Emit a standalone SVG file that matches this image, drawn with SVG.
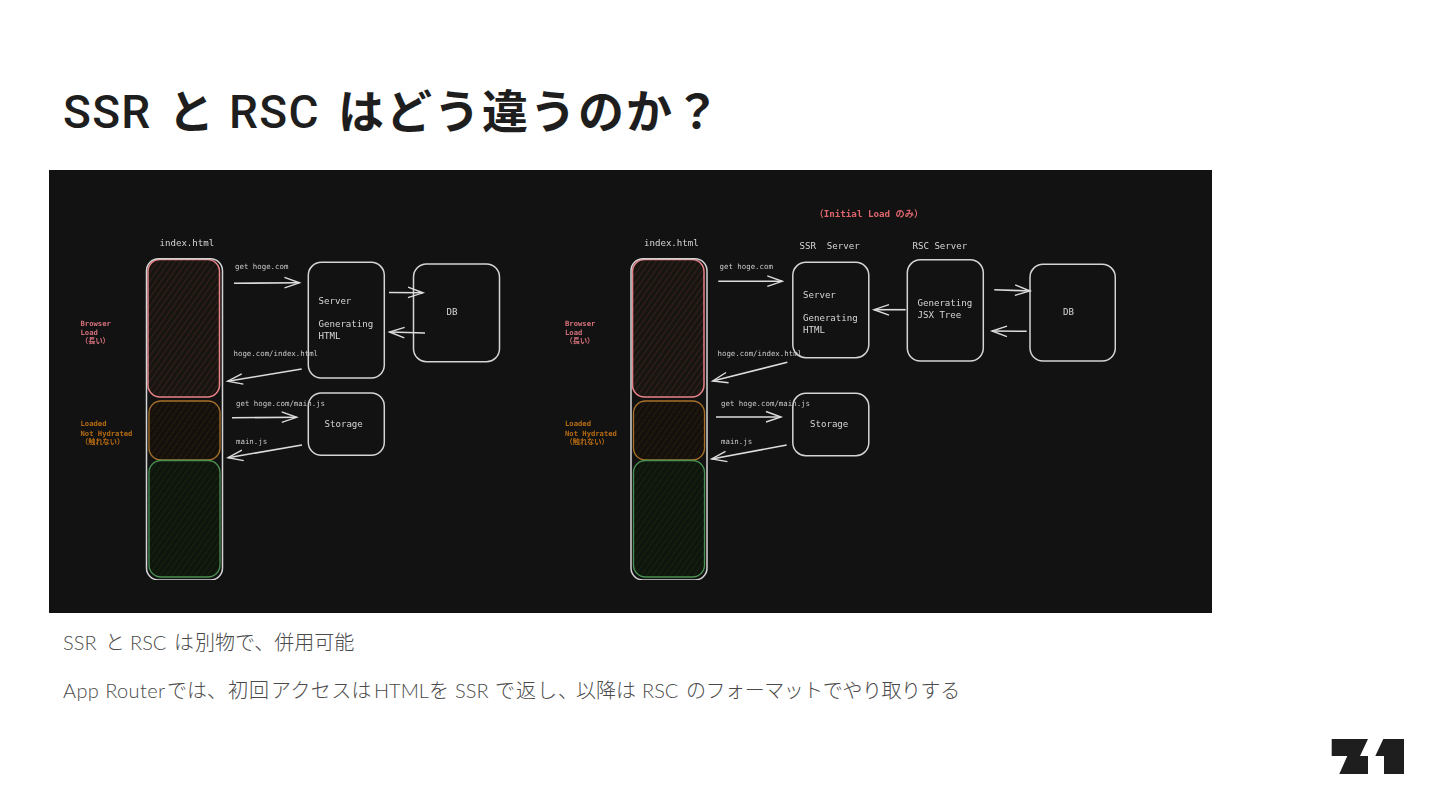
<svg xmlns="http://www.w3.org/2000/svg" width="1440" height="810" viewBox="0 0 1440 810">
<style>
.title{font-family:Roboto,"Noto Sans CJK JP",sans-serif;font-weight:700;font-size:46px;fill:#1e1e1e}
.lat{font-weight:500;letter-spacing:1.300px}
.body{font-family:Lato,"Noto Sans CJK JP",sans-serif;font-weight:300;font-size:20px;fill:#4a4a4a}
.box{fill:none;stroke:#d4d4d4;stroke-width:1.5}
.m{font-family:"DejaVu Sans Mono","Noto Sans CJK JP",monospace;fill:#d6d6d6}
.s9{font-size:9.1px}.s7{font-size:7.4px;fill:#c8c8c8}
.leg{font-family:"DejaVu Sans Mono","Noto Sans CJK JP",monospace;font-size:7.2px;font-weight:700}
.r{fill:#d4707a}.o{fill:#b56a12}
.a{fill:none;stroke:#dcdcdc;stroke-width:1.6;marker-end:url(#h)}
.red{fill:url(#hr);stroke:#e9838a;stroke-width:1.5}
.org{fill:url(#ho);stroke:#a8702a;stroke-width:1.3}
.grn{fill:url(#hg);stroke:#4a9052;stroke-width:1.3}
</style>
<defs>
<filter id="soft" x="0" y="0" width="1" height="1"><feGaussianBlur stdDeviation="0.45"/></filter>
<marker id="h" markerUnits="userSpaceOnUse" markerWidth="20" markerHeight="16" refX="15" refY="6" orient="auto" overflow="visible"><path d="M0 0.500L15 6L0 11" fill="none" stroke="#dcdcdc" stroke-width="1.400"/></marker>
<pattern id="hr" width="4.800" height="4.800" patternUnits="userSpaceOnUse" patternTransform="rotate(35)"><rect width="4.800" height="4.800" fill="#161211"/><rect width="1.300" height="4.800" fill="#33201e"/></pattern>
<pattern id="ho" width="4.800" height="4.800" patternUnits="userSpaceOnUse" patternTransform="rotate(35)"><rect width="4.800" height="4.800" fill="#14110c"/><rect width="1.300" height="4.800" fill="#211a0c"/></pattern>
<pattern id="hg" width="4.800" height="4.800" patternUnits="userSpaceOnUse" patternTransform="rotate(35)"><rect width="4.800" height="4.800" fill="#101410"/><rect width="1.300" height="4.800" fill="#13210f"/></pattern>
</defs>
<rect width="1440" height="810" fill="#fff"/>
<text class="title" y="128"><tspan class="lat" x="63">SSR</tspan><tspan x="168">と</tspan><tspan class="lat" x="229">RSC</tspan><tspan x="338" letter-spacing="2">はどう違うのか？</tspan></text>
<rect x="49" y="170" width="1163" height="443" fill="#121212"/>
<g filter="url(#soft)">
<g id="left-stack">
<rect class="red" x="148" y="259.500" width="71.500" height="137.500" rx="12"/>
<rect class="org" x="149" y="401" width="71" height="59" rx="12"/>
<rect class="grn" x="149" y="460.500" width="71" height="116.500" rx="12"/>
<rect class="box" x="146.500" y="258.700" width="76" height="321.300" rx="12"/>
<text class="m s9" x="159.500" y="246">index.html</text>
</g>
<g id="left-legend" class="leg">
<text class="r" x="80.500" y="326">Browser</text><text class="r" x="80.500" y="335">Load</text><text class="r" x="81" y="343">（長い）</text>
<text class="o" x="80.500" y="426">Loaded</text><text class="o" x="80.500" y="436">Not Hydrated</text><text class="o" x="81" y="444">（触れない）</text>
</g>
<g id="left-server"><rect class="box" x="308.300" y="262.300" width="76" height="115.700" rx="13"/><text class="m s9" x="318.500" y="303.500">Server</text><text class="m s9" x="318.500" y="326.500">Generating</text><text class="m s9" x="318.500" y="338.500">HTML</text></g>
<g id="left-db"><rect class="box" x="413.500" y="264" width="86" height="97.700" rx="13"/><text class="m s9" x="446.500" y="314.500">DB</text></g>
<g id="left-storage"><rect class="box" x="308.300" y="393" width="76" height="62.300" rx="13"/><text class="m s9" x="324.500" y="427">Storage</text></g>
<g id="right-stack">
<rect class="red" x="632.500" y="259.500" width="71.500" height="137.500" rx="12"/>
<rect class="org" x="633.500" y="401" width="71" height="59" rx="12"/>
<rect class="grn" x="633.500" y="460.500" width="71" height="116.500" rx="12"/>
<rect class="box" x="631" y="258.700" width="76" height="321.300" rx="12"/>
<text class="m s9" x="644" y="246">index.html</text>
</g>
<g id="right-legend" class="leg">
<text class="r" x="565" y="326">Browser</text><text class="r" x="565" y="335">Load</text><text class="r" x="565.500" y="343">（長い）</text>
<text class="o" x="565" y="426">Loaded</text><text class="o" x="565" y="436">Not Hydrated</text><text class="o" x="565.500" y="444">（触れない）</text>
</g>
<g id="right-ssr"><rect class="box" x="792.800" y="262.300" width="76" height="95.400" rx="13"/><text class="m s9" x="799.500" y="248.500">SSR&#160; Server</text><text class="m s9" x="803" y="297.500">Server</text><text class="m s9" x="803" y="320.500">Generating</text><text class="m s9" x="803" y="332.500">HTML</text></g>
<g id="right-rsc"><rect class="box" x="907.300" y="259.800" width="76" height="101.200" rx="13"/><text class="m s9" x="912.500" y="248.500">RSC Server</text><text class="m s9" x="917.500" y="305.500">Generating</text><text class="m s9" x="917.500" y="317.500">JSX Tree</text></g>
<g id="right-db"><rect class="box" x="1030" y="264.300" width="85.300" height="96.700" rx="13"/><text class="m s9" x="1063" y="314.500">DB</text></g>
<g id="right-storage"><rect class="box" x="792.800" y="393.300" width="76" height="62.400" rx="13"/><text class="m s9" x="810" y="427">Storage</text></g>
<text id="initial-load" class="leg" x="814.500" y="217" style="font-size:9.200px;fill:#dc666c">（Initial Load のみ）</text>
<g id="connectors">
<path class="a" d="M234 283.300L299.500 282.800"/>
<path class="a" d="M389 292.500L423 292.800"/>
<path class="a" d="M425 333L389.500 332"/>
<path class="a" d="M301.700 369L227.700 381.200"/>
<path class="a" d="M232 417.700L296.700 417.300"/>
<path class="a" d="M302 445L228 457.700"/>
<path class="a" d="M718.300 281.300L782.300 281.300"/>
<path class="a" d="M994.300 289.700L1030 291"/>
<path class="a" d="M1026.700 331.300L992 331"/>
<path class="a" d="M905.700 309.700L874 309.700"/>
<path class="a" d="M787.300 362.300L712.700 381"/>
<path class="a" d="M716 417L781 417"/>
<path class="a" d="M786.700 445L711.700 459"/>
</g>
<g id="connector-labels">
<text class="m s7" x="235" y="269">get hoge.com</text>
<text class="m s7" x="233.500" y="355.500">hoge.com/index.html</text>
<text class="m s7" x="236" y="406">get hoge.com/main.js</text>
<text class="m s7" x="236" y="444">main.js</text>
<text class="m s7" x="719.500" y="269">get hoge.com</text>
<text class="m s7" x="717.500" y="355.500">hoge.com/index.html</text>
<text class="m s7" x="721" y="406">get hoge.com/main.js</text>
<text class="m s7" x="721" y="444">main.js</text>
</g>
</g>
<text class="body" y="650"><tspan x="63">SSR</tspan><tspan x="105">と</tspan><tspan x="130">RSC</tspan><tspan x="174">は</tspan><tspan x="195">別物で、併用可能</tspan></text>
<text class="body" y="698"><tspan x="63" letter-spacing="0.400">App Router</tspan><tspan x="167">では、</tspan><tspan x="228" letter-spacing="1">初回</tspan><tspan x="271" letter-spacing="0.400">アクセスは</tspan><tspan x="374">HTML</tspan><tspan x="429">を</tspan><tspan x="455">SSR</tspan><tspan x="495" letter-spacing="1">で返し、</tspan><tspan x="576">以降は</tspan><tspan x="642">RSC</tspan><tspan x="686" letter-spacing="-0.450">のフォーマットでやり取りする</tspan></text>
<g id="logo" fill="#1e1e1e"><path d="M1331.700 739H1368L1360 756H1368V774H1339.300L1347.300 756H1331.700Z"/><path d="M1383.300 739H1404V774H1384V756H1375.300Z"/></g>
</svg>
